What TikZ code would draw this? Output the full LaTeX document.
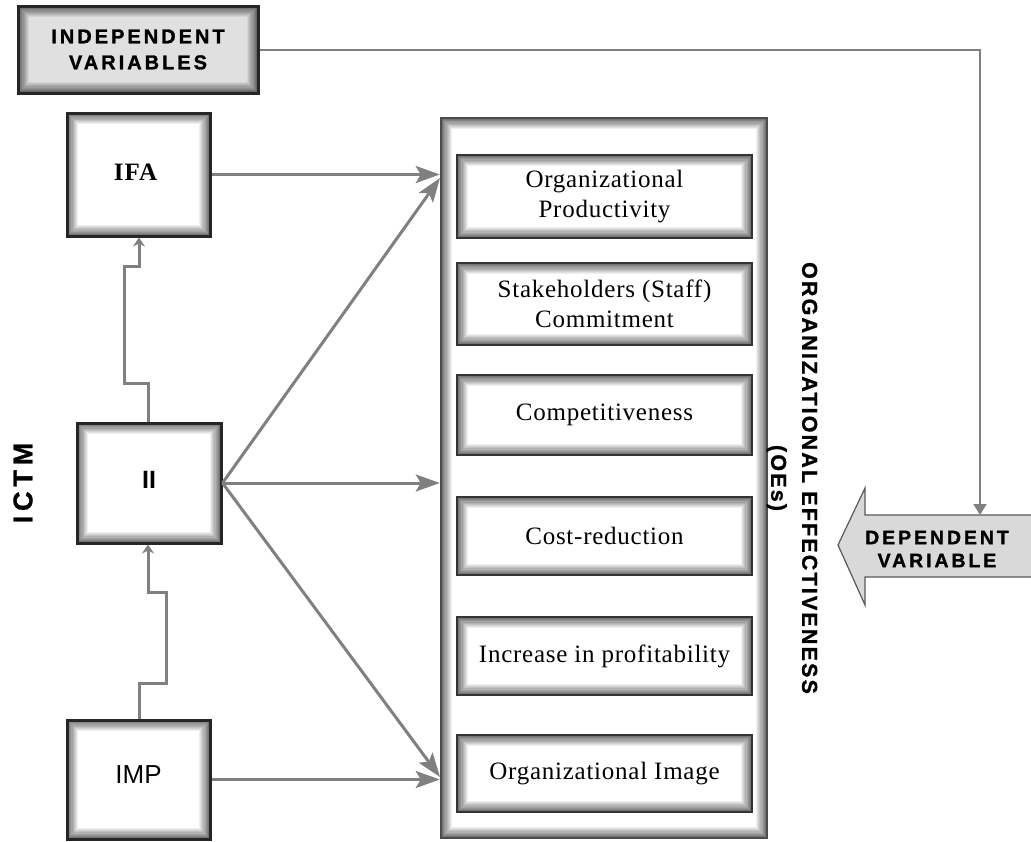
\documentclass[tikz,border=0pt]{standalone}
\usepackage{fontspec}
\setmainfont{Liberation Serif}
\setsansfont{Liberation Sans}
\newfontfamily\spaced[LetterSpace=15,FakeBold=1.4]{Liberation Sans Bold}
\newfontfamily\spacedc[LetterSpace=18,FakeBold=1.2]{Liberation Sans Bold}
\newfontfamily\spacedo[LetterSpace=10,FakeBold=1.2]{Liberation Sans Bold}
\newfontfamily\sansbold{Liberation Sans Bold}
\newfontfamily\serifbold[LetterSpace=4]{Liberation Serif Bold}
\newfontfamily\serifsp[LetterSpace=3]{Liberation Serif}
\usetikzlibrary{arrows.meta,calc}
\colorlet{conn}{black!50}
\colorlet{ivfill}{black!12}
\colorlet{dvfill}{black!15}
\tikzset{
  vig/.style={path picture={
    \foreach \i [evaluate=\i as \c using int(60-6*\i)] in {0,...,10} {
      \draw[line width=1.2pt, black!\c!#1]
        ($(path picture bounding box.south west)+(\i*1.1pt+0.6pt,\i*1.1pt+0.6pt)$)
        rectangle
        ($(path picture bounding box.north east)-(\i*1.1pt+0.6pt,\i*1.1pt+0.6pt)$);
    }}},
  box/.style={draw=black!85, line width=3pt, fill=white, inner sep=0pt, align=center, vig=white},
  ibox/.style={box, line width=2.5pt, draw=black!80, minimum width=295pt},
  itxt/.style={font=\serifsp\fontsize{25}{30}\selectfont},
  arr/.style={draw=conn, line width=3pt, -{Stealth[length=24pt,width=17pt,inset=5pt]}},
  sconn/.style={draw=conn, line width=3pt, -{Stealth[length=9pt,width=12pt,inset=3pt]}},
  tconn/.style={draw=conn, line width=2pt, -{Triangle[length=11pt,width=13pt]}},
}
\begin{document}
\begin{tikzpicture}[x=1pt,y=-1pt]
\useasboundingbox (0,0) rectangle (1031,841);
\fill[white] (0,0) rectangle (1031,841);

% left boxes
\node[box, minimum width=240pt, minimum height=87pt, fill=ivfill, vig=ivfill,
      font=\spaced\fontsize{20}{26}\selectfont] (iv) at (138,49.5) {INDEPENDENT\\VARIABLES};
\node[box, minimum width=143pt, minimum height=123pt,
      font=\serifbold\fontsize{25}{30}\selectfont] (ifa) at (138.5,174.5) {\raisebox{4pt}{IFA}\hspace*{6pt}};
\node[box, minimum width=144pt, minimum height=120pt,
      font=\sansbold\fontsize{25}{30}\selectfont] (ii) at (149,483) {\raisebox{6pt}{II}};
\node[box, minimum width=143pt, minimum height=119pt,
      font=\sffamily\fontsize{26}{30}\selectfont] (imp) at (138.5,779.5) {\raisebox{10pt}{IMP}};

\node[rotate=90, font=\spacedc\fontsize{27}{30}\selectfont] (ictm) at (23,483) {ICTM};

% outer OEs box
\node[box, draw=black!70, line width=2.5pt, minimum width=326pt, minimum height=720pt] (oes) at (604,478) {};

\node[ibox, minimum height=83pt, itxt] (b1) at (604.5,196.5) {Organizational\\Productivity};
\node[ibox, minimum height=82pt, itxt] (b2) at (604.5,304) {Stakeholders (Staff)\\Commitment};
\node[ibox, minimum height=80pt, itxt] (b3) at (604.5,415) {Competitiveness};
\node[ibox, minimum height=78pt, itxt] (b4) at (604.5,536) {Cost-reduction};
\node[ibox, minimum height=78pt, itxt] (b5) at (604.5,656) {Increase in profitability};
\node[ibox, minimum height=77pt, itxt] (b6) at (604.5,773.5) {Organizational Image};

\node[rotate=-90, align=center, font=\spacedo\fontsize{21.5}{31}\selectfont] (oestxt) at (792,478)
  {ORGANIZATIONAL EFFECTIVENESS\\(OEs)};

% dependent variable arrow
\fill[dvfill] (1032,515) -- (865,515) -- (865,488) -- (838,545) -- (865,605) -- (865,577) -- (1032,577) -- cycle;
\draw[black!65, line width=1.2pt] (1032,515) -- (865,515) -- (865,488) -- (838,545) -- (865,605) -- (865,577) -- (1032,577);
\node[align=center, font=\spaced\fontsize{19.5}{23}\selectfont] (dv) at (937,549) {DEPENDENT\\VARIABLE};
\coordinate (dvin) at (980,515);

% connectors
\coordinate (t1) at (440,178);
\coordinate (t3) at (440,777);
\draw[arr] (ifa.east) -- (ifa.east -| oes.west);
\draw[arr] (ii.east) -- (t1);
\draw[arr] (ii.east) -- (ii.east -| oes.west);
\draw[arr] (ii.east) -- (t3);
\draw[arr] (imp.east) -- (imp.east -| oes.west);

\draw[sconn] ($(ii.north)+(-1,0)$) -- ++(0,-38) -| (124,266) -| ($(ifa.south)+(0.5,0)$);
\draw[sconn] ($(imp.north)+(0.5,0)$) -- ++(0,-35) -| (166,592) -| ($(ii.south)+(-1,0)$);

\draw[tconn] (iv.east) -| (dvin);
\end{tikzpicture}
\end{document}
